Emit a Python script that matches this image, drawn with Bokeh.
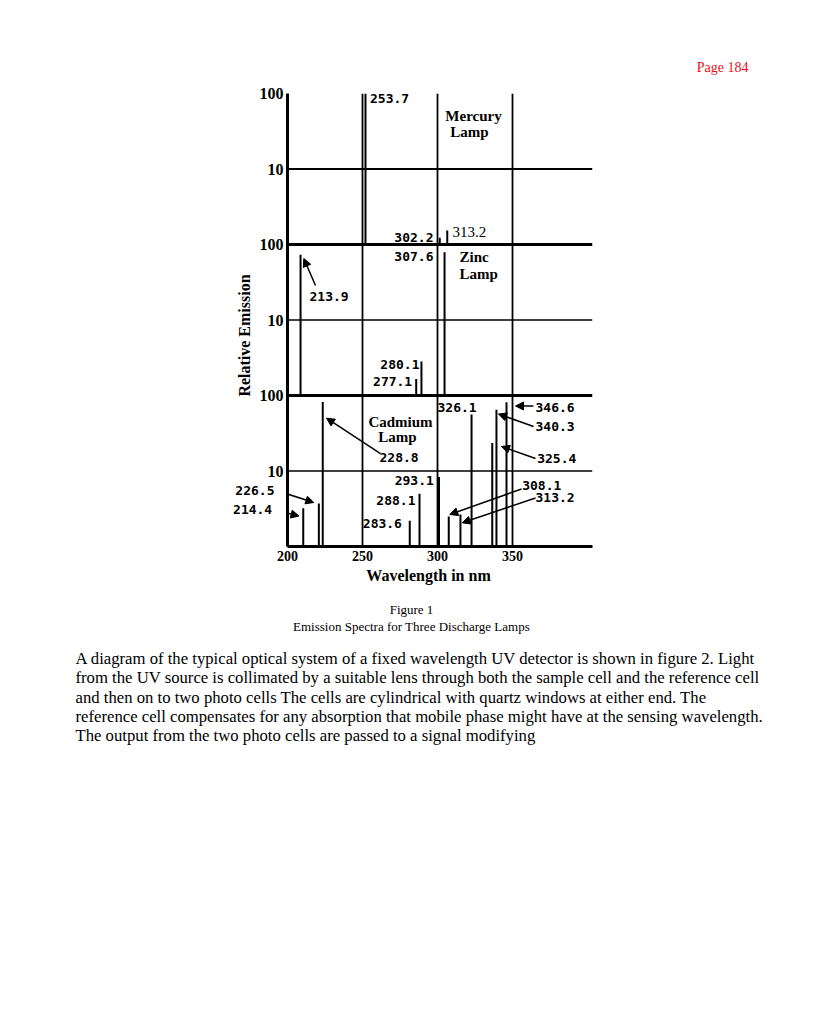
from math import pi
from bokeh.plotting import figure
from bokeh.models import (Range1d, FixedTicker, Span, Label, Arrow, NormalHead,
                          ColumnDataSource)
from bokeh.embed import file_html
from bokeh.resources import INLINE

# ---------------- data ----------------
# Cadmium lamp lines (wavelength position on axis, relative emission 1..100)
cd_wl = [210.5, 220.9, 223.5, 281.5, 288.0, 301.0, 307.5, 315.3, 322.7, 336.5, 339.3, 346.0]
cd_em = [3.2, 3.7, 82, 2.2, 5.0, 8.3, 2.5, 2.65, 56, 23.4, 64.7, 81.5]
# Zinc lamp lines
zn_wl = [208.7, 285.8, 289.3, 304.7]
zn_em = [73, 1.66, 2.83, 79]
# Mercury lamp lines
hg_wl = [252.0, 301.5, 306.5]
hg_em = [100, 1.23, 1.53]

# stacked panels: each lamp occupies two decades of the log axis
panel_base = {"Cadmium": 1, "Zinc": 100, "Mercury": 10000}

x_ticks = [200, 250, 300, 350]
y_ticks = [10, 100, 1000, 10000, 100000, 1000000]
y_tick_labels = ["10", "100", "10", "100", "10", "100"]

# ---------------- figure ----------------
p = figure(width=816, height=1020, x_range=Range1d(200, 403.33),
           y_range=Range1d(1, 1e6), y_axis_type="log",
           output_backend="svg", toolbar_location=None,
           min_border_left=287, min_border_right=224,
           min_border_top=93, min_border_bottom=474)
p.outline_line_color = None
p.background_fill_color = "white"
p.border_fill_color = "white"
p.xgrid.visible = False
p.ygrid.visible = False

SERIF = "Liberation Serif"
MONO = "DejaVu Sans Mono"

for ax in (p.xaxis[0], p.yaxis[0]):
    ax.axis_line_width = 3
    ax.axis_line_color = "black"
    ax.major_tick_in = 0
    ax.major_tick_out = 0
    ax.minor_tick_in = 0
    ax.minor_tick_out = 0
    ax.major_label_text_font = SERIF
    ax.major_label_text_font_style = "bold"
    ax.major_label_text_color = "black"

p.xaxis.ticker = FixedTicker(ticks=x_ticks)
p.xaxis.major_label_text_font_size = "14px"
p.xaxis.major_label_standoff = 4
p.yaxis.ticker = FixedTicker(ticks=y_ticks)
p.yaxis.major_label_overrides = {t: l for t, l in zip(y_ticks, y_tick_labels)}
p.yaxis.major_label_text_font_size = "16px"
p.yaxis.major_label_standoff = 4

# horizontal panel separators / decade lines
for loc, w in [(10, 1.5), (100, 3), (1000, 1.5), (10000, 3), (100000, 1.8)]:
    p.add_layout(Span(location=loc, dimension="width", line_color="black", line_width=w))
# vertical grid lines
for loc in [250, 300, 350]:
    p.add_layout(Span(location=loc, dimension="height", line_color="black", line_width=1.8))

# emission lines
xs, y0s, y1s = [], [], []
for wl, em, base in [(cd_wl, cd_em, panel_base["Cadmium"]),
                     (zn_wl, zn_em, panel_base["Zinc"]),
                     (hg_wl, hg_em, panel_base["Mercury"])]:
    for w_, e_ in zip(wl, em):
        xs.append(w_)
        y0s.append(base)
        y1s.append(base * e_)
src = ColumnDataSource(dict(x=xs, y0=y0s, y1=y1s))
p.segment(x0="x", y0="y0", x1="x", y1="y1", source=src, line_color="black", line_width=2)

NUM = "13px"


def lab(text, x, y, align="left", font=MONO, style="bold", size=NUM,
        color="black", angle=0, place=None):
    l = Label(x=x, y=y, text=text, text_align=align, text_baseline="middle",
              text_font=font, text_font_style=style, text_font_size=size,
              text_color=color, angle=angle)
    if place is None:
        p.add_layout(l)
    else:
        p.add_layout(l, place)


def arr(x0, y0, x1, y1):
    p.add_layout(Arrow(end=NormalHead(size=8, fill_color="black", line_color="black"),
                       x_start=x0, y_start=y0, x_end=x1, y_end=y1,
                       line_color="black", line_width=1.5))


# Mercury panel
lab("253.7", 255.0, 8.46e5)
lab("302.2", 297.33, 12570, align="right")
lab("313.2", 310.0, 14420, font=SERIF, style="normal", size="15px")
lab("Mercury", 324.0, 511100, align="center", font=SERIF, size="15px")
lab("Lamp", 321.33, 313800, align="center", font=SERIF, size="15px")
# Zinc panel
lab("307.6", 297.33, 6937, align="right")
lab("Zinc", 314.67, 6727, font=SERIF, size="15px")
lab("Lamp", 314.67, 4129, font=SERIF, size="15px")
lab("213.9", 214.67, 2048)
arr(218.67, 2864, 210.87, 6525)
lab("280.1", 288.0, 257.4, align="right")
lab("277.1", 283.13, 153.2, align="right")
# Cadmium panel
lab("Cadmium", 275.33, 45.24, align="center", font=SERIF, size="15px")
lab("Lamp", 273.33, 27.78, align="center", font=SERIF, size="15px")
lab("326.1", 300.0, 69.36)
lab("346.6", 365.33, 70.0)
arr(364.0, 72.6, 352.0, 72.6)
lab("340.3", 365.33, 38.86)
arr(364.0, 38.86, 340.67, 56.9)
lab("325.4", 366.47, 14.64)
arr(365.33, 14.64, 342.67, 21.11)
lab("228.8", 261.33, 15.23)
arr(262.0, 17.05, 226.0, 50.05)
lab("293.1", 297.53, 7.484, align="right")
lab("288.1", 285.33, 4.006, align="right")
lab("283.6", 250.2, 2.017)
lab("226.5", 191.33, 5.516, align="right", place="below")
arr(192.67, 5.516, 217.53, 3.826)
lab("214.4", 189.8, 3.044, align="right", place="below")
arr(194.0, 2.952, 207.67, 2.535)
lab("308.1", 356.47, 6.427)
arr(356.0, 5.775, 308.2, 2.653)
lab("313.2", 365.33, 4.498)
arr(365.33, 4.389, 316.47, 2.06)

# axis titles
lab("Relative Emission", 171.33, 623.4, align="center", font=SERIF, size="16px",
    angle=pi / 2, place="below")
lab("Wavelength in nm", 294.0, 0.4129, align="center", font=SERIF, size="16px", place="below")

# page texts
lab("Page 184", 507.33, 2.211e6, align="right", font=SERIF, style="normal", size="14px",
    color="#e8101a", place="below")
lab("Figure 1", 282.67, 0.1464, align="center", font=SERIF, style="normal", size="13px",
    place="below")
lab("Emission Spectra for Three Discharge Lamps", 282.67, 0.08716, align="center",
    font=SERIF, style="normal", size="13px", place="below")
para = [
    "A diagram of the typical optical system of a fixed wavelength UV detector is shown in figure 2. Light",
    "from the UV source is collimated by a suitable lens through both the sample cell and the reference cell",
    "and then on to two photo cells The cells are cylindrical with quartz windows at either end. The",
    "reference cell compensates for any absorption that mobile phase might have at the sensing wavelength.",
    "The output from the two photo cells are passed to a signal modifying",
]
para_y = [0.03285, 0.01840, 0.01, 0.005601, 0.003138]
for t, yy in zip(para, para_y):
    lab(t, 58.67, yy, font=SERIF, style="normal", size="16.7px", place="below")

open("out.html", "w").write(file_html(p, INLINE))
